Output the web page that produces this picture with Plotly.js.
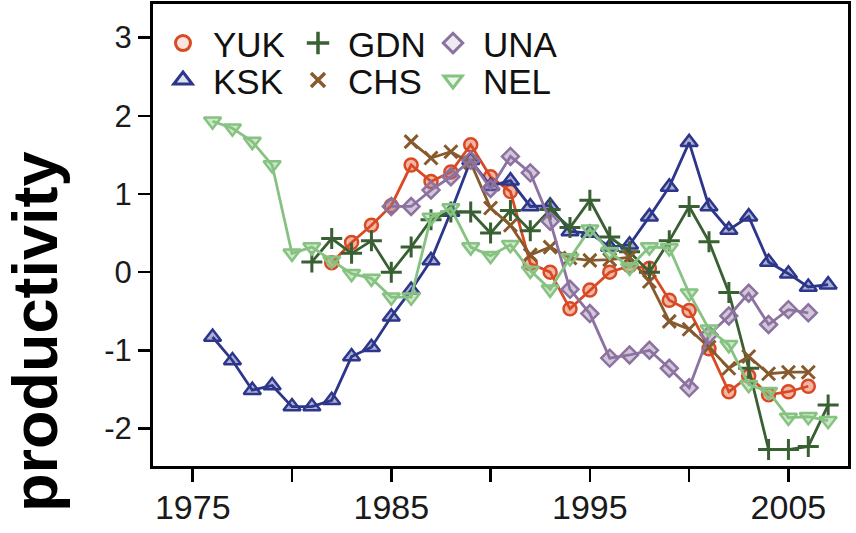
<!DOCTYPE html>
<html>
<head>
<meta charset="utf-8">
<script src="https://cdn.plot.ly/plotly-3.0.1.min.js"></script>
<style>
  html, body { margin: 0; padding: 0; background: #ffffff; }
  #chart { width: 856px; height: 533px; }
</style>
</head>
<body>
<div id="chart"></div>
<script>
// Productivity index per stock, by brood year
const yukYears = [1982,1983,1984,1985,1986,1987,1988,1989,1990,1991,1992,1993,1994,1995,1996,1997,1998,1999,2000,2001,2002,2003,2004,2005,2006];
const yukValues = [0.12,0.38,0.60,0.85,1.37,1.16,1.28,1.63,1.22,1.03,0.11,0.00,-0.47,-0.23,0.00,0.08,0.05,-0.36,-0.49,-0.98,-1.53,-1.33,-1.57,-1.53,-1.46];

const kskYears = [1976,1977,1978,1979,1980,1981,1982,1983,1984,1985,1986,1987,1988,1989,1990,1991,1992,1993,1994,1995,1996,1997,1998,1999,2000,2001,2002,2003,2004,2005,2006,2007];
const kskValues = [-0.83,-1.13,-1.51,-1.45,-1.72,-1.72,-1.64,-1.08,-0.96,-0.57,-0.23,0.15,0.77,1.43,1.10,1.17,0.84,0.85,0.52,0.50,0.32,0.35,0.71,1.09,1.66,0.84,0.54,0.71,0.13,-0.02,-0.19,-0.16];

const gdnYears = [1981,1982,1983,1984,1985,1986,1987,1988,1989,1990,1991,1992,1993,1994,1995,1996,1997,1998,1999,2000,2001,2002,2003,2004,2005,2006,2007];
const gdnValues = [0.13,0.43,0.24,0.40,0.00,0.32,0.67,0.77,0.77,0.50,0.79,0.53,0.80,0.57,0.92,0.45,0.26,0.00,0.40,0.84,0.39,-0.26,-1.23,-2.27,-2.27,-2.23,-1.70];

const chsYears = [1986,1987,1988,1989,1990,1991,1992,1993,1994,1995,1996,1997,1998,1999,2000,2001,2002,2003,2004,2005,2006];
const chsValues = [1.67,1.46,1.54,1.40,0.82,0.60,0.22,0.32,0.18,0.15,0.16,0.19,-0.12,-0.63,-0.73,-0.96,-1.23,-1.08,-1.30,-1.28,-1.28];

const unaYears = [1985,1986,1987,1988,1989,1990,1991,1992,1993,1994,1995,1996,1997,1998,1999,2000,2001,2002,2003,2004,2005,2006];
const unaValues = [0.84,0.84,1.05,1.22,1.43,1.07,1.48,1.27,0.65,-0.22,-0.53,-1.10,-1.06,-1.00,-1.23,-1.48,-0.80,-0.56,-0.27,-0.67,-0.48,-0.52];

const nelYears = [1976,1977,1978,1979,1980,1981,1982,1983,1984,1985,1986,1987,1988,1989,1990,1991,1992,1993,1994,1995,1996,1997,1998,1999,2000,2001,2002,2003,2004,2005,2006,2007];
const nelValues = [1.93,1.84,1.67,1.37,0.24,0.32,0.15,-0.02,-0.08,-0.32,-0.32,0.70,0.82,0.32,0.21,0.35,0.02,-0.22,0.18,0.55,0.26,0.06,0.32,0.31,-0.27,-0.73,-0.93,-1.44,-1.53,-1.86,-1.85,-1.90];

const xTickVals = [1975,1980,1985,1990,1995,2000,2005];
const xTickText = ['1975','','1985','','1995','','2005'];
const yTickVals = [-2,-1,0,1,2,3];
const yTickText = ['-2','-1','0','1','2','3'];

const FONT = 'Liberation Sans, Arial, Helvetica, sans-serif';

// drawing order; legend = first legend row, legend2 = second row
const series = [
  {name: 'YUK', x: yukYears, y: yukValues, rgb: '217,74,36',   symbol: 'circle',        size: 13, lsize: 15, lw: 2.5, legend: 'legend'},
  {name: 'KSK', x: kskYears, y: kskValues, rgb: '44,54,138',   symbol: 'triangle-up',   size: 15, lsize: 16, lw: 2.5, legend: 'legend2'},
  {name: 'GDN', x: gdnYears, y: gdnValues, rgb: '56,96,50',    symbol: 'cross-thin',    size: 15, lsize: 16, lw: 3,   legend: 'legend'},
  {name: 'CHS', x: chsYears, y: chsValues, rgb: '135,90,45',   symbol: 'x-thin',        size: 13, lsize: 14, lw: 3,   legend: 'legend2'},
  {name: 'UNA', x: unaYears, y: unaValues, rgb: '140,114,160', symbol: 'diamond',       size: 13, lsize: 15, lw: 2.5, legend: 'legend'},
  {name: 'NEL', x: nelYears, y: nelValues, rgb: '134,194,128', symbol: 'triangle-down', size: 15, lsize: 16, lw: 2.5, legend: 'legend2'}
];

const traces = [];
series.forEach(s => {
  const color = 'rgb(' + s.rgb + ')';
  // connecting line
  traces.push({
    type: 'scatter', mode: 'lines', x: s.x, y: s.y, name: s.name,
    showlegend: false, hoverinfo: 'skip',
    line: {color: color, width: 2.8}
  });
  // point symbols
  traces.push({
    type: 'scatter', mode: 'markers', x: s.x, y: s.y, name: s.name,
    showlegend: false,
    marker: {symbol: s.symbol, size: s.size, color: 'rgba(' + s.rgb + ',0.40)',
             line: {color: color, width: s.lw}}
  });
  // legend key (open symbol, no line)
  traces.push({
    type: 'scatter', mode: 'markers', x: [null], y: [null], name: s.name,
    legend: s.legend, showlegend: true, hoverinfo: 'skip',
    marker: {symbol: s.symbol, size: s.lsize, color: 'rgba(' + s.rgb + ',0.15)',
             line: {color: color, width: s.lw + 0.5}}
  });
});

const legendBase = {
  orientation: 'h', xanchor: 'left', yanchor: 'middle',
  entrywidth: 70, entrywidthmode: 'pixels', itemwidth: 50,
  bgcolor: 'rgba(0,0,0,0)', borderwidth: 0, itemsizing: 'trace',
  font: {family: FONT, size: 35, color: '#111111'}
};

const layout = {
  width: 856, height: 533,
  margin: {l: 153, r: 8, t: 4, b: 67, pad: 0},
  paper_bgcolor: '#ffffff', plot_bgcolor: '#ffffff',
  showlegend: true,
  legend: Object.assign({}, legendBase, {x: 0.0, y: 0.915}),
  legend2: Object.assign({}, legendBase, {x: 0.0, y: 0.835}),
  xaxis: {
    range: [1973, 2008], tickmode: 'array', tickvals: xTickVals, ticktext: xTickText,
    showgrid: false, zeroline: false, showline: true, mirror: true,
    linecolor: '#000000', linewidth: 3,
    ticks: 'outside', ticklen: 13, tickwidth: 2.5, tickcolor: '#000000',
    ticklabelstandoff: -4,
    tickfont: {family: FONT, size: 34, color: '#1a1a1a'}
  },
  yaxis: {
    range: [-2.48, 3.43], tickmode: 'array', tickvals: yTickVals, ticktext: yTickText,
    showgrid: false, zeroline: false, showline: true, mirror: true,
    linecolor: '#000000', linewidth: 3,
    ticks: 'outside', ticklen: 12, tickwidth: 2.5, tickcolor: '#000000',
    tickfont: {family: FONT, size: 31, color: '#1a1a1a'}
  },
  annotations: [{
    text: 'productivity', textangle: -90,
    xref: 'paper', yref: 'paper', x: -0.17, y: 0.292,
    xanchor: 'center', yanchor: 'middle', showarrow: false,
    font: {family: FONT, size: 63, color: '#000000', weight: 700}
  }]
};

Plotly.newPlot('chart', traces, layout, {staticPlot: true, displayModeBar: false});
</script>
</body>
</html>
